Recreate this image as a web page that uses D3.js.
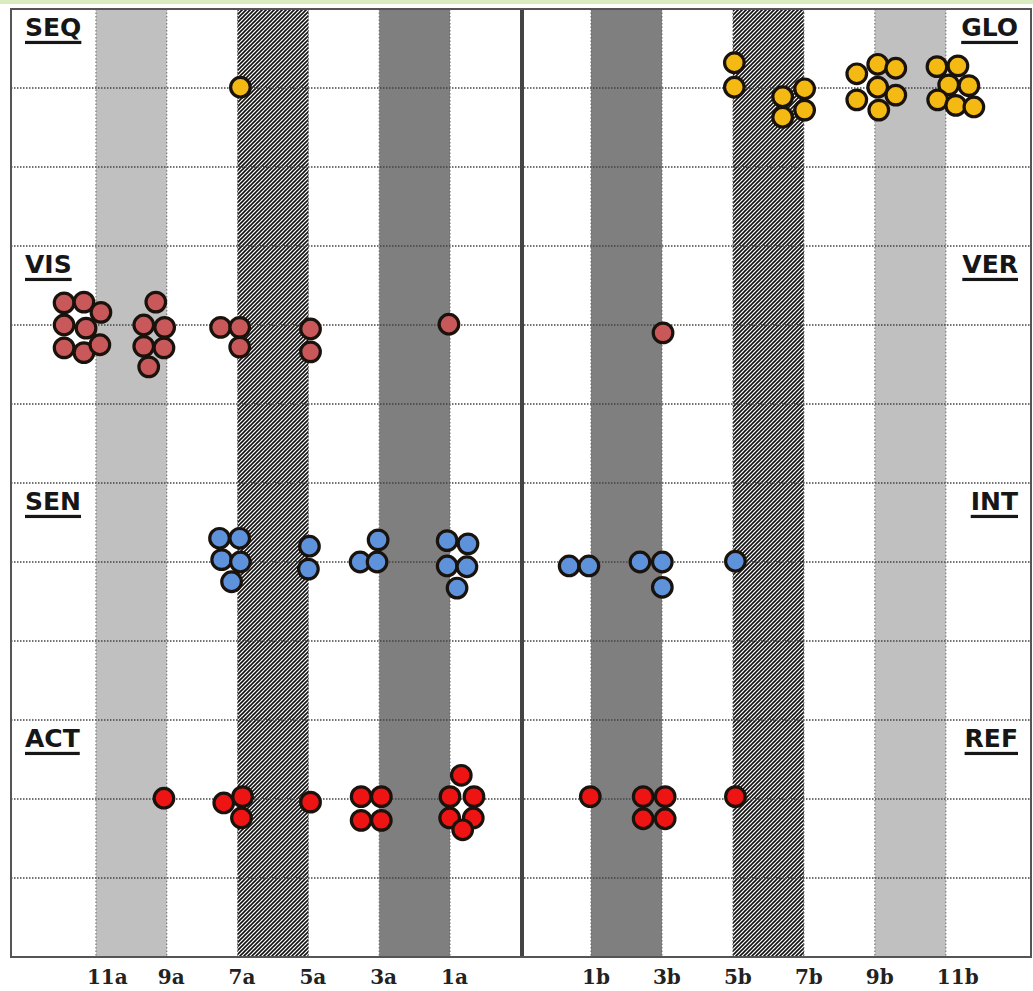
<!DOCTYPE html>
<html><head><meta charset="utf-8">
<script src="https://cdn.jsdelivr.net/npm/d3@7"></script>
<style>body{margin:0;background:#fff}svg{display:block}</style>
</head><body><svg id="c" width="1033" height="991"></svg>
<script>
// ---- data ----
const tickValues = [-11,-9,-7,-5,-3,-1,1,3,5,7,9,11];
const tickLabels = ['11a','9a','7a','5a','3a','1a','1b','3b','5b','7b','9b','11b'];
const bandFrom = [-11,-7,-3,1,5,9];
const bandTo   = [-9,-5,-1,3,7,11];
const bandKind = ['light','hatch','dark','dark','hatch','light'];
const rowValues = [1,4,7,10];
const leftNames = ['SEQ','VIS','SEN','ACT'];
const rightNames = ['GLO','VER','INT','REF'];
const gridRows = [1,2,3,4,5,6,7,8,9,10,11];

const seqGloX = [-6.92,5.04,5.04,6.40,7.02,6.40,7.02,8.49,9.08,9.59,9.08,9.59,8.49,9.11,10.75,11.34,11.08,11.65,10.77,11.28,11.79];
const seqGloY = [0.99,0.68,0.99,1.11,1.01,1.37,1.28,0.82,0.70,0.75,0.99,1.09,1.15,1.28,0.73,0.72,0.96,0.97,1.15,1.22,1.24];
const visVerX = [-11.90,-11.34,-10.86,-11.90,-11.28,-11.90,-11.34,-10.89,-9.31,-9.65,-9.06,-9.65,-9.08,-9.51,-7.48,-6.94,-6.94,-4.94,-4.94,-1.03,3.03];
const visVerY = [3.72,3.71,3.84,4.00,4.04,4.29,4.35,4.25,3.71,4.00,4.03,4.27,4.29,4.53,4.03,4.03,4.28,4.05,4.34,3.99,4.10];
const senIntX = [-7.51,-6.94,-7.45,-6.92,-7.17,-4.97,-5.00,-3.54,-3.06,-3.03,-1.08,-0.745,-1.08,-0.76,-0.90,0.69,0.97,2.38,3.01,3.01,5.07];
const senIntY = [6.70,6.70,6.97,7.00,7.25,6.80,7.09,7.00,7.00,6.72,6.73,6.77,7.05,7.06,7.33,7.05,7.05,7.00,7.00,7.32,6.99];
const actRefX = [-9.08,-7.39,-6.86,-6.89,-4.94,-3.51,-2.94,-3.51,-2.94,-0.84,-1.00,-0.66,-1.01,-0.67,-0.82,0.99,2.47,3.09,2.47,3.09,5.07];
const actRefY = [9.99,10.05,9.97,10.24,10.04,9.97,9.97,10.27,10.27,9.70,9.97,9.97,10.24,10.24,10.39,9.97,9.97,9.97,10.25,10.25,9.97];

const seriesColors = ['#f4b912','#c9585a','#5e93dc','#ee1414'];

// ---- layout ----
const svg = d3.select('#c');
const L = 11, R = 1031, T = 9, B = 957;
const x = d3.scaleLinear().domain([-13.4,-1,1,13.4]).range([L,450,591,R]);
const y = d3.scaleLinear().domain([0,12]).range([T,B]);

const defs = svg.append('defs');
const pat = defs.append('pattern').attr('id','hatch').attr('patternUnits','userSpaceOnUse')
  .attr('width',4).attr('height',4);
pat.append('rect').attr('width',4).attr('height',4).attr('fill','#fff');
pat.append('path').attr('d','M0,4 L4,0 M-1,1 L1,-1 M3,5 L5,3')
  .attr('stroke','#111').attr('stroke-width',1.6);

// top green strip
svg.append('rect').attr('x',0).attr('y',0).attr('width',1033).attr('height',4).attr('fill','#d8ecbf');

// plot background
svg.append('rect').attr('x',L).attr('y',T).attr('width',R-L).attr('height',B-T).attr('fill','#fff');

// bands
const bandFill = {light:'#c0c0c0', dark:'#7f7f7f', hatch:'url(#hatch)'};
svg.append('g').selectAll('rect').data(bandFrom).join('rect')
  .attr('x', (d)=>x(d)).attr('y',T)
  .attr('width',(d,i)=>x(bandTo[i])-x(d)).attr('height',B-T)
  .attr('fill',(d,i)=>bandFill[bandKind[i]]);

// gridlines
const grid = svg.append('g').attr('fill','none');
grid.selectAll('line.h').data(gridRows).join('line').attr('class','h')
  .attr('x1',L).attr('x2',R).attr('y1',d=>y(d)).attr('y2',d=>y(d))
  .attr('stroke','#444').attr('stroke-width',1.3).attr('stroke-dasharray','1.5,1.5');
grid.selectAll('line.v').data(tickValues).join('line').attr('class','v')
  .attr('y1',T).attr('y2',B).attr('x1',d=>x(d)).attr('x2',d=>x(d))
  .attr('stroke','#666').attr('stroke-width',1).attr('stroke-dasharray','1.5,2');

// center divider
svg.append('line').attr('x1',x(0)+1.5).attr('x2',x(0)+1.5).attr('y1',T).attr('y2',B)
  .attr('stroke','#444').attr('stroke-width',4);

// frame
svg.append('rect').attr('x',L).attr('y',T).attr('width',R-L).attr('height',B-T)
  .attr('fill','none').attr('stroke','#555').attr('stroke-width',2);

// corner labels
function cornerLabel(text, row, side){
  const g = svg.append('g');
  const t = g.append('text').text(text)
    .attr('x', side==='left' ? 25 : 1018)
    .attr('y', y(row - 0.66))
    .attr('text-anchor', side==='left' ? 'start' : 'end')
    .attr('font-family','DejaVu Sans').attr('font-weight','bold')
    .attr('font-size',25).attr('fill','#161616');
  const w = t.node().getComputedTextLength();
  const x0 = side==='left' ? 25 : 1018 - w;
  g.append('rect').attr('x',x0).attr('y',y(row-0.66)+5).attr('width',w).attr('height',3.2).attr('fill','#161616');
}
rowValues.forEach((r,i)=>{ cornerLabel(leftNames[i], r, 'left'); cornerLabel(rightNames[i], r, 'right'); });

// dots
const allSeries = [[seqGloX,seqGloY],[visVerX,visVerY],[senIntX,senIntY],[actRefX,actRefY]];
allSeries.forEach((s,si)=>{
  svg.append('g').selectAll('circle').data(s[0]).join('circle')
    .attr('cx',d=>x(d)).attr('cy',(d,i)=>y(s[1][i])).attr('r',9.8)
    .attr('fill',seriesColors[si]).attr('stroke','#1a120c').attr('stroke-width',3.2);
});

// x tick labels
svg.append('g').selectAll('text').data(tickValues).join('text')
  .attr('x',d=>x(d)-9).attr('y',984)
  .attr('font-family','DejaVu Serif').attr('font-weight','bold').attr('font-size',20)
  .attr('fill','#222')
  .text((d,i)=>tickLabels[i]);
</script>
</body></html>
